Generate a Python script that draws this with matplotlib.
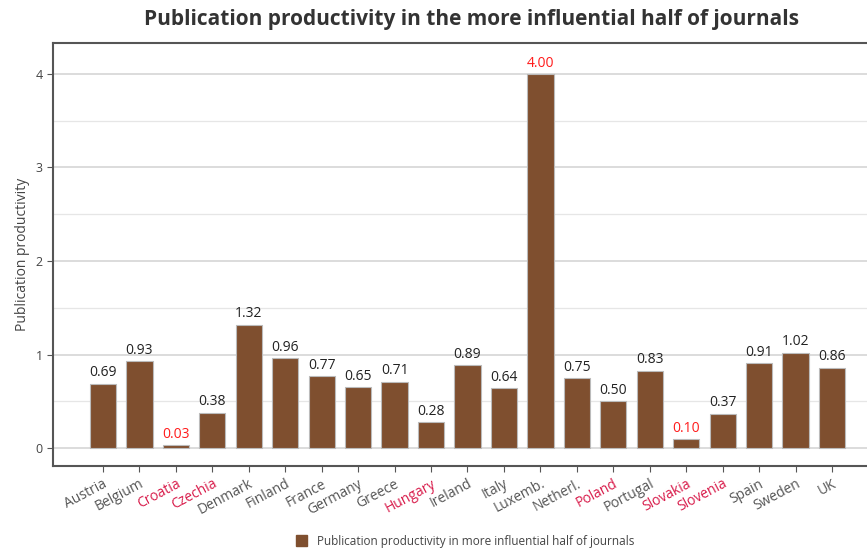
import matplotlib
matplotlib.use("Agg")
import matplotlib.pyplot as plt
from matplotlib.patches import Patch

countries = ["Austria", "Belgium", "Croatia", "Czechia", "Denmark", "Finland", "France",
             "Germany", "Greece", "Hungary", "Ireland", "Italy", "Luxemb.", "Netherl.",
             "Poland", "Portugal", "Slovakia", "Slovenia", "Spain", "Sweden", "UK"]
values = [0.69, 0.93, 0.03, 0.38, 1.32, 0.96, 0.77, 0.65, 0.71, 0.28, 0.89, 0.64,
          4.00, 0.75, 0.50, 0.83, 0.10, 0.37, 0.91, 1.02, 0.86]
highlight_countries = ["Croatia", "Czechia", "Hungary", "Poland", "Slovakia", "Slovenia"]
red_values = ["Croatia", "Luxemb.", "Slovakia"]

plt.rcParams['font.family'] = ['Open Sans', 'DejaVu Sans']

W, H = 867, 548
fig = plt.figure(figsize=(W/100, H/100), dpi=100)
left_px, right_px, top_px, bot_px = 53, 882, 43, 466
ax = fig.add_axes([left_px/W, 1-bot_px/H, (right_px-left_px)/W, (bot_px-top_px)/H])

bar_color = "#7F4F2F"
x = list(range(len(countries)))
ax.bar(x, values, width=0.72, color=bar_color, edgecolor="#BBBBBB", linewidth=0.8, zorder=3)

for xi, c, v in zip(x, countries, values):
    col = "#FF1A1A" if c in red_values else "#222222"
    ax.text(xi, v + 0.035, f"{v:.2f}", ha="center", va="bottom", fontsize=10, color=col, zorder=4)

ax.set_xlim(-1.37, len(countries) - 1 + 1.37)
ax.set_ylim(-0.19, 4.33)
ax.set_yticks([0, 1, 2, 3, 4])
ax.set_yticks([0.5, 1.5, 2.5, 3.5], minor=True)
ax.grid(axis="y", which="major", color="#D5D5D5", linewidth=1.2, zorder=0)
ax.grid(axis="y", which="minor", color="#E6E6E6", linewidth=0.9, zorder=0)
ax.tick_params(axis="y", which="minor", length=0)
ax.tick_params(axis="y", which="major", length=4, color="#555555", labelsize=9, labelcolor="#444444")
ax.tick_params(axis="x", length=4, color="#555555", labelsize=10)

ax.set_xticks(x)
ax.set_xticklabels(countries, rotation=28, ha="right", rotation_mode="anchor")
for lbl in ax.get_xticklabels():
    lbl.set_color("#D81B4A" if lbl.get_text() in highlight_countries else "#555555")

for s in ax.spines.values():
    s.set_color("#555555")
    s.set_linewidth(1.5)

ax.set_ylabel("Publication productivity", fontsize=10, color="#444444", labelpad=4)

fig.text(471/W, 1-20/H, "Publication productivity in the more influential half of journals",
         ha="center", va="center", fontsize=15, fontweight="bold", color="#333333")

fig.legend(handles=[Patch(facecolor=bar_color, edgecolor=bar_color)],
           labels=["Publication productivity in more influential half of journals"],
           loc="center", bbox_to_anchor=(465/W, 1-541/H), frameon=False, fontsize=8.5,
           handlelength=1.0, handleheight=1.0, labelcolor="#444444")

fig.savefig("out.png", dpi=100)
